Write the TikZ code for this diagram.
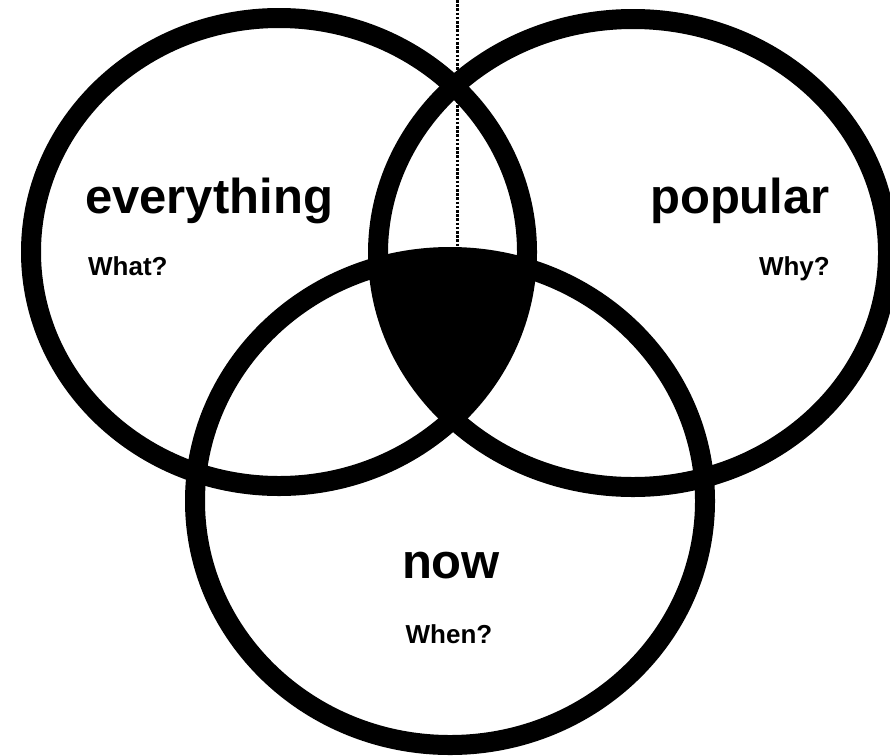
\documentclass[tikz,border=0pt]{standalone}
\usepackage{fontspec}
\setmainfont{Liberation Sans}
\begin{document}
\begin{tikzpicture}[x=1pt,y=-1pt,
  ring/.style={line width=20pt,draw=black},
  bigword/.style={font=\bfseries\fontsize{49}{55}\selectfont,inner sep=0pt},
  smallword/.style={font=\bfseries\fontsize{26}{30}\selectfont,inner sep=0pt},
  dotline/.style={line width=3pt,dash pattern=on 2.6pt off 1.6pt}]
\useasboundingbox (0,0) rectangle (890,755);
\fill[white] (0,0) rectangle (890,755);
% centres
\coordinate (cl) at (279,252);
\coordinate (cr) at (633,253);
\coordinate (cb) at (450,501);
% dotted line
\coordinate (dtop) at (457,0);
\coordinate (dbot) at (457,252);
\draw[dotline] (dtop) -- (dbot);
% triple intersection
\begin{scope}
  \clip (cl) ellipse [x radius=248pt, y radius=234pt];
  \clip (cr) ellipse [x radius=255pt, y radius=234pt];
  \fill[black] (cb) ellipse [x radius=255pt, y radius=244pt];
\end{scope}
% rings
\draw[ring] (cl) ellipse [x radius=248pt, y radius=234pt];
\draw[ring] (cr) ellipse [x radius=255pt, y radius=234pt];
\draw[ring] (cb) ellipse [x radius=255pt, y radius=244pt];
% labels
\node[bigword,anchor=base west] (everything) at (85,213) {everything};
\node[smallword,anchor=base west] (what) at (88,275) {What?};
\node[bigword,anchor=base east] (popular) at (830,213) {popular};
\node[smallword,anchor=base east] (why) at (830,275) {Why?};
\node[bigword,anchor=base] (now) at (451,578) {now};
\node[smallword,anchor=base] (when) at (449,643) {When?};
\end{tikzpicture}
\end{document}
